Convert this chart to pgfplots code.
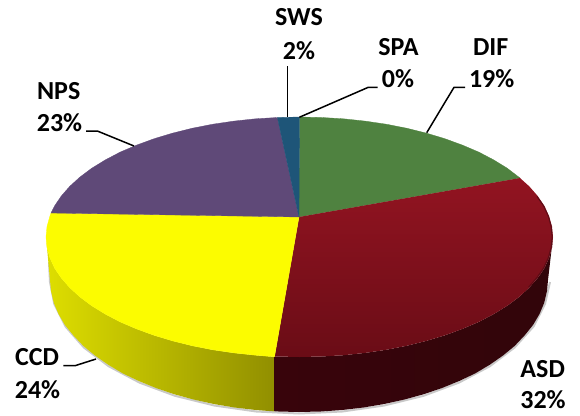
\documentclass[border=0pt]{standalone}
\usepackage{pgfplots}
\pgfplotsset{compat=1.18}
\usepackage{fontspec}
\setmainfont{Carlito}
\definecolor{cdif}{RGB}{79,130,64}
\definecolor{cnps}{RGB}{95,73,120}
\definecolor{csws}{RGB}{30,85,120}
\definecolor{cccd}{RGB}{252,252,0}
\definecolor{redtop}{RGB}{146,20,33}
\definecolor{redbot}{RGB}{106,12,22}
\definecolor{redrim}{RGB}{92,12,22}
\definecolor{ysl}{RGB}{222,222,0}
\definecolor{ysm}{RGB}{190,190,0}
\definecolor{ysr}{RGB}{145,143,0}
\definecolor{rsl}{RGB}{56,4,11}
\definecolor{rsm}{RGB}{40,3,7}
\definecolor{rsr}{RGB}{50,5,10}
\newcommand{\lab}[3]{\node[font=\fontsize{26}{26}\selectfont\bfseries,text=black,inner sep=0pt] at (axis cs:#1,#2) {#3};}
\begin{document}
\begin{tikzpicture}
\path[use as bounding box] (0,0) rectangle (580pt,415pt);
\begin{axis}[
  at={(0,0)},anchor=south west,
  width=580pt,height=415pt,scale only axis,hide axis,
  xmin=0,xmax=580,ymin=0,ymax=415,y dir=reverse,clip=false,
  every axis plot/.append style={mark=none,line join=round}]
% soft shadow under the pie
\addplot[draw=black!30,line width=2pt,opacity=.7] coordinates {(49,262)(50,282)(54.3,304)(65.5,326.5)(83.9,347.5)(108.8,366.3)(139.5,382.6)(175,395.8)(214.3,405.5)(256.3,411.5)(299,413.5)(342.2,411.5)(384.2,405.5)(423.5,395.8)(459,382.6)(489.7,366.3)(514.6,347.5)(533.5,326.5)(545,304)(550,282)};
% CCD side
\addplot[draw=none,left color=ysl,middle color=ysm,right color=ysr] coordinates {(46,237)(47,247.5)(49.9,257.8)(54.6,268.1)(61.3,278)(69.8,287.7)(80,297)(91.8,305.8)(105.3,314.1)(120.2,321.9)(136.6,328.9)(154.1,335.3)(172.7,340.9)(192.4,345.8)(212.8,349.8)(233.9,352.9)(255.5,355.2)(274.5,356.8)(274.5,411.4)(255.8,410)(234.5,407.5)(213.8,404)(193.5,399.5)(174.5,394.3)(156,388)(139,381.1)(123,373.5)(108.3,364.8)(95,355.5)(83.4,346)(73.5,335.5)(65,325.1)(58.5,314)(53.8,302.9)(51,291)(50,280)} --cycle;
% ASD side
\addplot[draw=none,left color=rsl,middle color=rsm,right color=rsr] coordinates {(274.5,356.8)(277.4,356.5)(299.5,357)(321.6,356.5)(343.5,355.2)(365.1,352.9)(386.2,349.8)(406.6,345.8)(426.3,340.9)(444.9,335.3)(462.4,328.9)(478.8,321.9)(493.7,314.1)(507.2,305.8)(519,297)(529.2,287.7)(537.7,278)(544.4,268.1)(549.1,257.8)(552,247.5)(553,237)(548,280)(547,291)(544.2,302.9)(539.5,314)(533,325.1)(524.5,335.5)(514.6,346)(503,355.5)(489.7,364.8)(475,373.5)(459,381.1)(442,388)(423.5,394.3)(404.5,399.5)(384.2,404)(363.5,407.5)(342.2,410)(320.7,411.5)(299,412)(274.5,411.4)} --cycle;
% DIF
\addplot[draw=cdif,fill=cdif,line width=.3pt] coordinates {(299,217)(299.5,117)(321.6,117.5)(343.5,118.8)(365.1,121.1)(386.2,124.2)(406.6,128.2)(426.3,133.1)(444.9,138.7)(462.4,145.1)(478.8,152.1)(493.7,159.9)(507.2,168.2)(520,178)} --cycle;
% ASD
\addplot[draw=none,top color=redtop,bottom color=redbot] coordinates {(299,217)(520,178)(529.2,186.3)(537.7,196)(544.4,205.9)(549.1,216.2)(552,226.5)(553,237)(552,247.5)(549.1,257.8)(544.4,268.1)(537.7,278)(529.2,287.7)(519,297)(507.2,305.8)(493.7,314.1)(478.8,321.9)(462.4,328.9)(444.9,335.3)(426.3,340.9)(406.6,345.8)(386.2,349.8)(365.1,352.9)(343.5,355.2)(321.6,356.5)(299.5,357)(277.4,356.5)(274.5,356.8)} --cycle;
\addplot[draw=redrim,line width=1pt] coordinates {(537,196.5)(543.8,206.3)(548.4,216.5)(551.2,226.7)(552.2,237)(551.2,247.3)(548.4,257.5)(543.8,267.7)(537,277.5)(528.6,287.1)};
% CCD
\addplot[draw=cccd,fill=cccd,line width=.3pt] coordinates {(299,217)(274.5,356.8)(255.5,355.2)(233.9,352.9)(212.8,349.8)(192.4,345.8)(172.7,340.9)(154.1,335.3)(136.6,328.9)(120.2,321.9)(105.3,314.1)(91.8,305.8)(80,297)(69.8,287.7)(61.3,278)(54.6,268.1)(49.9,257.8)(47,247.5)(46,237)(47,226.5)(49.9,216.2)(51,213)} --cycle;
% NPS
\addplot[draw=cnps,fill=cnps,line width=.3pt] coordinates {(299,217)(51,213)(54.6,205.9)(61.3,196)(69.8,186.3)(80,177)(91.8,168.2)(105.3,159.9)(120.2,152.1)(136.6,145.1)(154.1,138.7)(172.7,133.1)(192.4,128.2)(212.8,124.2)(233.9,121.1)(255.5,118.8)(277.4,117.5)} --cycle;
% SWS
\addplot[draw=csws,fill=csws,line width=.3pt] coordinates {(299,217)(277.4,117.5)(299.5,117)} --cycle;
% leader lines
\addplot[black,line width=1.5pt] coordinates {(287.7,66)(287.7,117)};
\addplot[black,line width=1.5pt] coordinates {(377.7,87.3)(368.3,87.3)(299.3,117.3)};
\addplot[black,line width=1.5pt] coordinates {(465,87.3)(454,87.3)(426.7,132.7)};
\addplot[black,line width=1.5pt] coordinates {(86,131)(97.3,131)(134,146)};
\addplot[black,line width=1.5pt] coordinates {(63.3,365.7)(75,365.7)(96,359)};
% labels
\lab{299}{17.5}{SWS}\lab{299}{51}{2\%}
\lab{398.5}{46.7}{SPA}\lab{398}{79}{0\%}
\lab{490.7}{46.7}{DIF}\lab{491.7}{79}{19\%}
\lab{58.7}{91}{NPS}\lab{59.5}{123}{23\%}
\lab{37}{357}{CCD}\lab{37.5}{390}{24\%}
\lab{542.7}{369.5}{ASD}\lab{543}{399.5}{32\%}
\end{axis}
\end{tikzpicture}
\end{document}
